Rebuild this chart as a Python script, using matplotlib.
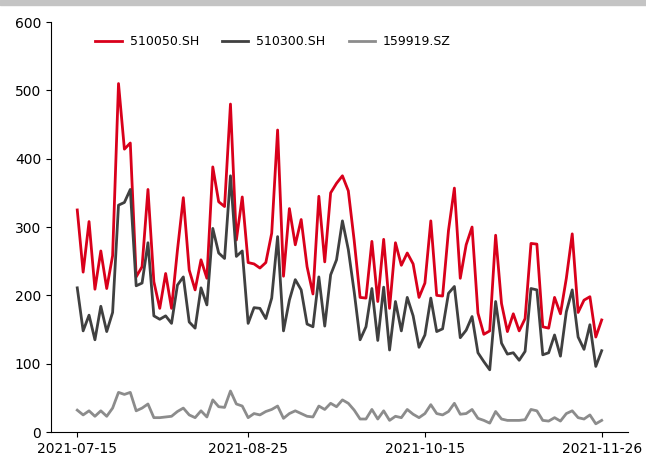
import numpy as np
import pandas as pd
import matplotlib
matplotlib.use('Agg')
import matplotlib.pyplot as plt
from matplotlib.patches import Rectangle

# 交易日（去掉中秋、国庆休市）
holidays = ['2021-09-20', '2021-09-21', '2021-10-01', '2021-10-04',
            '2021-10-05', '2021-10-06', '2021-10-07']
dates = [d for d in pd.bdate_range('2021-07-15', '2021-11-26').strftime('%Y-%m-%d')
         if d not in holidays]
tick_labels = ['2021-07-15', '2021-08-25', '2021-10-15', '2021-11-26']

names = ['510050.SH', '510300.SH', '159919.SZ']

v510050 = [325, 234, 308, 209, 265, 210, 258, 510, 414, 423,
           227, 242, 355, 220, 181, 232, 181, 266, 343, 237,
           208, 252, 225, 388, 337, 330, 480, 281, 344, 248,
           246, 240, 248, 291, 442, 228, 327, 274, 311, 242,
           202, 345, 249, 350, 364, 375, 353, 280, 197, 196,
           279, 191, 282, 181, 277, 244, 262, 246, 197, 218,
           309, 200, 199, 295, 357, 225, 274, 300, 174, 143,
           148, 288, 188, 147, 173, 148, 166, 276, 275, 154,
           152, 197, 173, 225, 290, 175, 193, 198, 139, 164]

v510300 = [211, 148, 171, 135, 184, 147, 175, 332, 336, 355,
           214, 218, 277, 170, 165, 170, 159, 215, 227, 161,
           152, 211, 186, 298, 262, 254, 375, 257, 265, 159,
           182, 181, 166, 196, 286, 148, 193, 223, 208, 158,
           154, 227, 155, 230, 252, 309, 267, 205, 135, 154,
           210, 134, 212, 120, 191, 148, 197, 170, 124, 142,
           196, 147, 151, 203, 213, 138, 149, 169, 116, 103,
           91, 191, 130, 114, 116, 105, 118, 210, 208, 113,
           116, 142, 111, 176, 208, 139, 121, 157, 96, 119]

v159919 = [32, 25, 31, 23, 31, 23, 35, 58, 55, 58,
           31, 35, 41, 21, 21, 22, 23, 30, 35, 25,
           21, 31, 22, 47, 37, 36, 60, 41, 38, 21,
           27, 25, 30, 33, 38, 20, 27, 31, 27, 23,
           22, 38, 33, 42, 37, 47, 42, 32, 19, 19,
           33, 19, 31, 17, 23, 21, 33, 26, 21, 27,
           40, 27, 25, 30, 42, 26, 27, 33, 20, 17,
           13, 30, 19, 17, 17, 17, 18, 33, 31, 17,
           16, 21, 16, 27, 31, 21, 19, 25, 12, 17]

colors = ['#d9001b', '#404040', '#8c8c8c']

fig = plt.figure(figsize=(6.46, 4.57), dpi=100)
fig.patches.append(Rectangle((0, 0.989), 1, 0.011, transform=fig.transFigure,
                             color='#c4c4c4', zorder=0))
ax = fig.add_axes([0.079, 0.0547, 0.893, 0.897])

x = np.arange(len(dates))
for vals, name, c in zip([v510050, v510300, v159919], names, colors):
    ax.plot(x, vals, color=c, linewidth=2, label=name)

ax.set_ylim(0, 600)
ax.set_yticks(range(0, 601, 100))
ax.set_xticks([dates.index(t) for t in tick_labels])
ax.set_xticklabels(tick_labels)
ax.spines['top'].set_visible(False)
ax.spines['right'].set_visible(False)
ax.legend(loc='upper center', ncol=3, frameon=False, fontsize=9,
          bbox_to_anchor=(0.385, 0.995), handlelength=2.1, columnspacing=1.85,
          handletextpad=0.65)

fig.savefig('out.png', dpi=100)
